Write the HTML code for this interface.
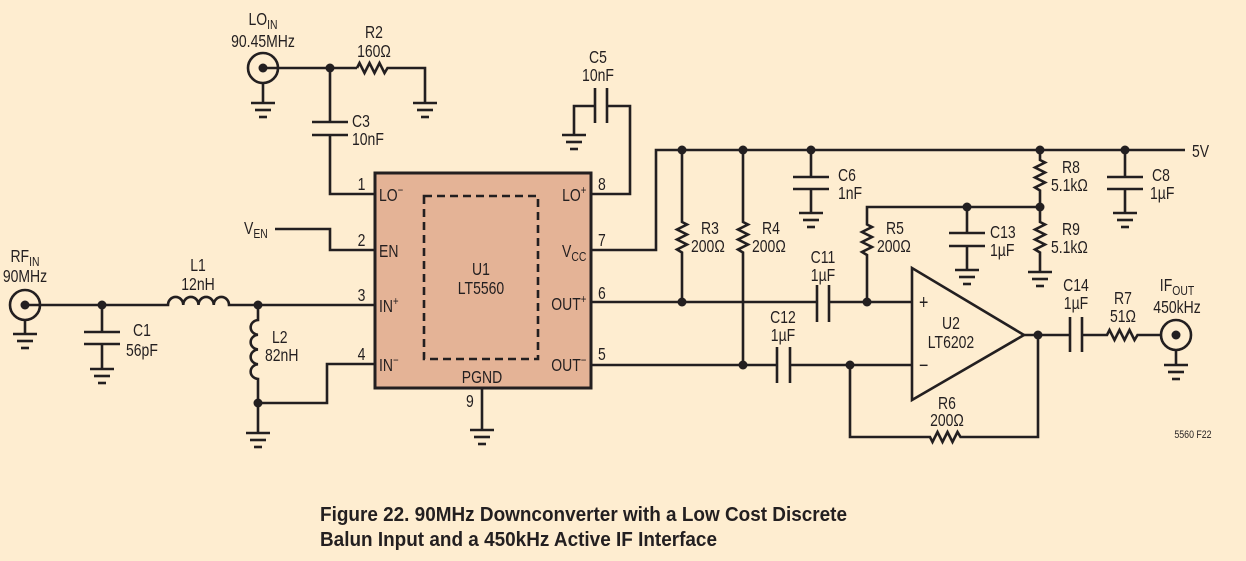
<!DOCTYPE html>
<html><head><meta charset="utf-8"><style>
html,body{margin:0;padding:0;background:#FEEDD0;}
svg{display:block;}
text{font-family:"Liberation Sans",sans-serif;font-size:17.5px;fill:#231F20;}
.m{text-anchor:middle;}
.e{text-anchor:end;}
</style></head><body>
<svg width="1246" height="561" viewBox="0 0 1246 561" xmlns="http://www.w3.org/2000/svg">
<defs>
<g id="gnd" stroke="#231F20" stroke-width="2.6"><line x1="-12" y1="0" x2="12" y2="0"/><line x1="-8" y1="7" x2="8" y2="7"/><line x1="-4" y1="14" x2="4" y2="14"/></g>
</defs>
<rect width="1246" height="561" fill="#FEEDD0"/>
<g fill="none" stroke="#231F20" stroke-width="2.6" stroke-linejoin="miter">
<rect x="375" y="173" width="216" height="215" fill="#E4B396" stroke-width="3"/>
<rect x="424" y="196" width="114" height="163" stroke-dasharray="8,5" stroke-width="2.6"/>
<circle cx="263" cy="68" r="15"/>
<path d="M263,68 H357"/>
<path d="M357,68 l2.5,-5 l5,10 l5,-10 l5,10 l5,-10 l5,10 l3,-5 H425 V103"/>
<path d="M263,83 V103"/>
<path d="M330,68 V122 M312,122 H348 M312,135 H348 M330,135 V194 H375"/>
<path d="M275,229 H330 V250 H375"/>
<path d="M595,88 V123 M607,88 V123 M595,106 H574 V135 M607,106 H630 V194 H591"/>
<circle cx="25" cy="305" r="15"/>
<path d="M25,320 V334"/>
<path d="M25,305 H168 a7.6,8 0 0 1 15.25,0 a7.6,8 0 0 1 15.25,0 a7.6,8 0 0 1 15.25,0 a7.6,8 0 0 1 15.25,0 H375"/>
<path d="M102,305 V332 M84,332 H120 M84,344 H120 M102,344 V369"/>
<path d="M258,305 V320 a8,7.4 0 0 0 0,14.75 a8,7.4 0 0 0 0,14.75 a8,7.4 0 0 0 0,14.75 a8,7.4 0 0 0 0,14.75 V433"/>
<path d="M258,403 H327 V364 H375"/>
<path d="M482,388 V430"/>
<path d="M591,250 H656 V150 H1185"/>
<path d="M682,150 V222 l5,2.5 l-10,5 l10,5 l-10,5 l10,5 l-10,5 l5,3 V302"/>
<path d="M743,150 V222 l5,2.5 l-10,5 l10,5 l-10,5 l10,5 l-10,5 l5,3 V365"/>
<path d="M811,150 V177 M793,177 H829 M793,189 H829 M811,189 V213"/>
<path d="M1125,150 V177 M1107,177 H1143 M1107,189 H1143 M1125,189 V213"/>
<path d="M1040,150 V160 l5,2.5 l-10,5 l10,5 l-10,5 l10,5 l-10,5 l5,3 V222 l5,2.5 l-10,5 l10,5 l-10,5 l10,5 l-10,5 l5,3 V272"/>
<path d="M867,302 V255 l-5,-3 l10,-5 l-10,-5 l10,-5 l-10,-5 l10,-5 l-5,-2.5 V207 H1040"/>
<path d="M967,207 V233 M949,233 H985 M949,246 H985 M967,246 V270"/>
<path d="M591,302 H817 M817,285 V322 M829,285 V322 M829,302 H912"/>
<path d="M591,365 H777 M777,347 V383 M790,347 V383 M790,365 H912"/>
<path d="M850,365 V437 H930 l2.5,5 l5,-10 l5,10 l5,-10 l5,10 l5,-10 l3,5 H1038 V335"/>
<path d="M912,268 V400 L1024,335 Z"/>
<path d="M1024,335 H1070 M1070,317 V352 M1082,317 V352 M1082,335 H1107 l2.5,-5 l5,10 l5,-10 l5,10 l5,-10 l5,10 l3,-5 H1161"/>
<circle cx="1176" cy="335" r="15"/>
<path d="M1176,350 V365"/>
</g>
<g fill="#231F20">
<circle cx="263" cy="68" r="4.5"/><circle cx="25" cy="305" r="4.5"/><circle cx="1176" cy="335" r="4.5"/>
<circle cx="330" cy="68" r="4.5"/><circle cx="102" cy="305" r="4.5"/><circle cx="258" cy="305" r="4.5"/><circle cx="258" cy="403" r="4.5"/>
<circle cx="682" cy="150" r="4.5"/><circle cx="743" cy="150" r="4.5"/><circle cx="811" cy="150" r="4.5"/><circle cx="1040" cy="150" r="4.5"/><circle cx="1125" cy="150" r="4.5"/>
<circle cx="682" cy="302" r="4.5"/><circle cx="743" cy="365" r="4.5"/><circle cx="867" cy="302" r="4.5"/><circle cx="850" cy="365" r="4.5"/>
<circle cx="967" cy="207" r="4.5"/><circle cx="1040" cy="207" r="4.5"/><circle cx="1038" cy="335" r="4.5"/>
</g>
<use href="#gnd" x="263" y="103"/><use href="#gnd" x="425" y="103"/><use href="#gnd" x="574" y="135"/>
<use href="#gnd" x="25" y="334"/><use href="#gnd" x="102" y="369"/><use href="#gnd" x="258" y="433"/><use href="#gnd" x="482" y="430"/>
<use href="#gnd" x="811" y="213"/><use href="#gnd" x="1125" y="213"/><use href="#gnd" x="967" y="270"/><use href="#gnd" x="1040" y="272"/><use href="#gnd" x="1176" y="365"/>
<g transform="scale(0.8,1)">
<text class="m" x="328.75" y="25">LO<tspan style="font-size:13px" dy="4">IN</tspan></text>
<text class="m" x="328.75" y="47">90.45MHz</text>
<text class="m" x="467.5" y="38">R2</text><text class="m" x="467.5" y="57">160Ω</text>
<text x="440" y="127">C3</text><text x="440" y="145">10nF</text>
<text class="m" x="747.5" y="63">C5</text><text class="m" x="747.5" y="81">10nF</text>
<text x="305" y="234">V<tspan style="font-size:13px" dy="4">EN</tspan></text>
<text class="m" x="31.25" y="262">RF<tspan style="font-size:13px" dy="4">IN</tspan></text>
<text class="m" x="31.25" y="282">90MHz</text>
<text class="m" x="247.5" y="271">L1</text><text class="m" x="247.5" y="290">12nH</text>
<text x="166.25" y="336">C1</text><text x="157.5" y="356">56pF</text>
<text x="340" y="343">L2</text><text x="331.25" y="361">82nH</text>
<text x="447" y="190">1</text><text x="447" y="246">2</text><text x="447" y="301">3</text><text x="447" y="360">4</text>
<text x="747.5" y="190">8</text><text x="747.5" y="246">7</text><text x="747.5" y="299">6</text><text x="747.5" y="360">5</text>
<text x="582.5" y="407">9</text>
<text x="473.75" y="201">LO<tspan style="font-size:12px" dy="-7">−</tspan></text>
<text x="473.75" y="257">EN</text>
<text x="473.75" y="312">IN<tspan style="font-size:12px" dy="-7">+</tspan></text>
<text x="473.75" y="371">IN<tspan style="font-size:12px" dy="-7">−</tspan></text>
<text class="e" x="733" y="201">LO<tspan style="font-size:12px" dy="-7">+</tspan></text>
<text class="e" x="733" y="257">V<tspan style="font-size:13px" dy="4">CC</tspan></text>
<text class="e" x="733" y="310">OUT<tspan style="font-size:12px" dy="-7">+</tspan></text>
<text class="e" x="733" y="371">OUT<tspan style="font-size:12px" dy="-7">−</tspan></text>
<text class="m" x="602.5" y="383">PGND</text>
<text class="m" x="601.25" y="275">U1</text><text class="m" x="601.25" y="294">LT5560</text>
<text x="1490" y="157">5V</text>
<text x="876.25" y="234">R3</text><text x="863.75" y="252">200Ω</text>
<text x="952.5" y="234">R4</text><text x="940" y="252">200Ω</text>
<text class="m" x="1028.75" y="263">C11</text><text class="m" x="1028.75" y="281">1µF</text>
<text x="1107.5" y="234">R5</text><text x="1096.25" y="252">200Ω</text>
<text x="1047.5" y="181">C6</text><text x="1047.5" y="199">1nF</text>
<text x="1237.5" y="238">C13</text><text x="1237.5" y="256">1µF</text>
<text x="1327.5" y="173">R8</text><text x="1313.75" y="191">5.1kΩ</text>
<text x="1327.5" y="235">R9</text><text x="1313.75" y="253">5.1kΩ</text>
<text x="1440" y="181">C8</text><text x="1437.5" y="199">1µF</text>
<text class="m" x="978.75" y="323">C12</text><text class="m" x="978.75" y="341">1µF</text>
<text class="m" x="1345" y="291">C14</text><text class="m" x="1345" y="309">1µF</text>
<text class="m" x="1403.75" y="304">R7</text><text class="m" x="1403.75" y="322">51Ω</text>
<text class="m" x="1471.25" y="291">IF<tspan style="font-size:13px" dy="4">OUT</tspan></text>
<text class="m" x="1471.25" y="313">450kHz</text>
<text class="m" x="1188.75" y="329">U2</text><text class="m" x="1188.75" y="348">LT6202</text>
<text x="1148.75" y="309" style="font-size:20px">+</text><text x="1148.75" y="372" style="font-size:20px">−</text>
<text class="m" x="1183.75" y="409">R6</text><text class="m" x="1183.75" y="426">200Ω</text>
<text x="1468" y="438" style="font-size:11px">5560 F22</text>
</g>
<text x="320" y="521" style="font-size:20px;font-weight:bold" textLength="527" lengthAdjust="spacingAndGlyphs">Figure 22. 90MHz Downconverter with a Low Cost Discrete</text>
<text x="320" y="546" style="font-size:20px;font-weight:bold" textLength="397" lengthAdjust="spacingAndGlyphs">Balun Input and a 450kHz Active IF Interface</text>
</svg>
</body></html>
